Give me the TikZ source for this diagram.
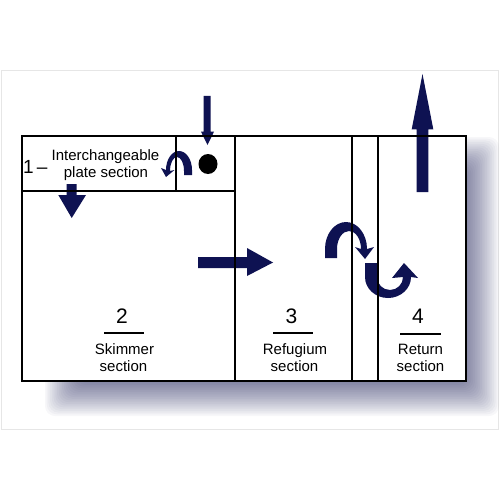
\documentclass[tikz,border=0pt]{standalone}
\usepackage{fontspec}
\setmainfont{Liberation Sans}
\definecolor{navy}{RGB}{14,18,82}
\definecolor{framegray}{RGB}{230,230,230}
\newcommand\labf{\fontsize{15}{18}\selectfont}
\newcommand\numf{\fontsize{21}{24}\selectfont}
\tikzset{
  flow/.style={fill=navy},
  wall/.style={line width=2pt, black},
  rule/.style={line width=1.6pt, black},
  lab/.style={inner sep=0pt, font=\labf},
  num/.style={inner sep=0pt, font=\numf}
}
\begin{document}
\begin{tikzpicture}[x=1pt,y=-1pt,line join=miter]
\useasboundingbox (0,0) rectangle (500,500);
\fill[white] (0,0) rectangle (500,500);
\draw[framegray, line width=1pt] (1,70.5) rectangle (498.5,429);
% blurred shadow
\foreach \i in {0,...,29}{
  \pgfmathsetmacro\dd{25-1.724*\i}
  \pgfmathsetmacro\xa{70-\dd}
  \pgfmathsetmacro\ya{162-\dd}
  \pgfmathsetmacro\xb{474+\dd}
  \pgfmathsetmacro\yb{391+\dd}
  \fill[navy, opacity=0.032, rounded corners=10pt] (\xa,\ya) rectangle (\xb,\yb);
}
\fill[white] (22,136) rectangle (466,381);
% arrows
\fill[flow] (416.7,192) -- (416.7,129.3) -- (411.7,129.3) -- (422.5,74) -- (433.3,129.3) -- (428.3,129.3) -- (428.3,192) -- cycle;
\fill[flow] (203.5,96) -- (210.5,96) -- (210.5,131.7) -- (214,131.7) -- (207.5,145) -- (201,131.7) -- (203.5,131.7) -- cycle;
\fill[flow] (66.7,184) -- (76.7,184) -- (76.7,195) -- (86,195) -- (71.7,218) -- (58.3,195) -- (66.7,195) -- cycle;
\fill[flow] (198,257) -- (247,257) -- (247,248) -- (273,262.5) -- (247,276) -- (247,268) -- (198,268) -- cycle;
% curved arrow in section 1
\fill[flow] (192,175) -- (192,170) arc[start angle=0, end angle=-180, x radius=13, y radius=19]
  -- (161,168) -- (166,177) -- (174.5,170) -- (170,171)
  arc[start angle=-180, end angle=0, x radius=7, y radius=14] -- (184,175) -- cycle;
% wave arrows
\fill[flow] (325,258) -- (325,249) arc[start angle=180, end angle=360, x radius=21, y radius=27]
  -- (374,247) -- (365,259) -- (355,247) -- (361,249)
  arc[start angle=360, end angle=180, x radius=12, y radius=18] -- (337,258) -- cycle;
\fill[flow] (365,263) -- (365,277) arc[start angle=180, end angle=0, x radius=23, y radius=21]
  -- (418,278) -- (404,263) -- (392,278) -- (403,277)
  arc[start angle=0, end angle=180, x radius=13, y radius=13] -- (377,263) -- cycle;
% dot
\fill[black] (208,164) ellipse[x radius=9.5, y radius=10];
% walls
\draw[wall] (22,136) rectangle (466,381);
\draw[wall] (22,191) -- (235,191);
\draw[wall] (176,136) -- (176,191);
\draw[wall] (235,136) -- (235,381);
\draw[wall] (352,136) -- (352,381);
\draw[wall] (378,136) -- (378,381);
% texts
\node[inner sep=0pt, anchor=base west, font=\fontsize{19}{21}\selectfont] (one) at (23,173.5) {1\,–};
\node[lab, anchor=base] (ic) at (105.5,160) {Interchangeable};
\node[lab, anchor=base] (ps) at (106,177) {plate section};
\node[num, anchor=base] (n2) at (122,323) {2};
\draw[rule] (104,333) -- (144,333);
\node[lab, anchor=base] (sk) at (124.5,354) {Skimmer};
\node[lab, anchor=base] (s2) at (123.5,371) {section};
\node[num, anchor=base] (n3) at (291.5,323) {3};
\draw[rule] (273,333) -- (313,333);
\node[lab, anchor=base] (rf) at (295,354) {Refugium};
\node[lab, anchor=base] (s3) at (294.5,371) {section};
\node[num, anchor=base] (n4) at (418,323) {4};
\draw[rule] (400,334) -- (441,334);
\node[lab, anchor=base] (rt) at (420.5,354) {Return};
\node[lab, anchor=base] (s4) at (420.5,371) {section};
\end{tikzpicture}
\end{document}
